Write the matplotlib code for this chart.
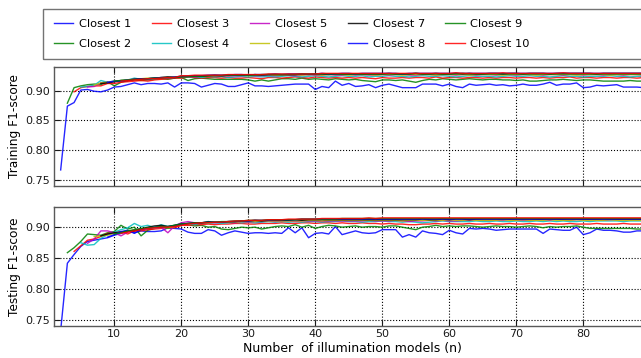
import numpy as np
import matplotlib
matplotlib.use('Agg')
import matplotlib.pyplot as plt
from matplotlib.patches import Rectangle

# F1-scores vs number of illumination models; "Closest k" starts at n = k+1
labels = ['Closest %d' % k for k in range(1, 11)]
colors = ['b', 'g', 'r', 'c', 'm', 'y', 'k', 'b', 'g', 'r']

train = [
    [0.767, 0.874, 0.880, 0.901, 0.902, 0.899, 0.898, 0.901, 0.906, 0.907,
     0.910, 0.913, 0.910, 0.912, 0.912, 0.911, 0.913, 0.906, 0.913, 0.913,
     0.912, 0.906, 0.909, 0.912, 0.911, 0.907, 0.907, 0.910, 0.913, 0.908,
     0.908, 0.907, 0.908, 0.909, 0.910, 0.911, 0.911, 0.911, 0.902, 0.907,
     0.905, 0.916, 0.909, 0.912, 0.907, 0.908, 0.910, 0.905, 0.909, 0.911,
     0.908, 0.905, 0.905, 0.905, 0.911, 0.911, 0.911, 0.908, 0.911, 0.907,
     0.905, 0.911, 0.909, 0.910, 0.911, 0.909, 0.910, 0.908, 0.909, 0.911,
     0.909, 0.909, 0.911, 0.914, 0.909, 0.911, 0.911, 0.913, 0.905, 0.906,
     0.909, 0.908, 0.909, 0.910, 0.906, 0.906, 0.906, 0.905, 0.905],
    [0.879, 0.905, 0.908, 0.910, 0.911, 0.910, 0.915, 0.908, 0.914, 0.917,
     0.918, 0.917, 0.918, 0.919, 0.920, 0.919, 0.921, 0.922, 0.917, 0.920,
     0.921, 0.920, 0.919, 0.919, 0.919, 0.919, 0.919, 0.918, 0.916, 0.918,
     0.916, 0.918, 0.920, 0.920, 0.919, 0.921, 0.919, 0.920, 0.919, 0.918,
     0.920, 0.919, 0.918, 0.919, 0.917, 0.916, 0.915, 0.918, 0.918, 0.917,
     0.918, 0.916, 0.914, 0.917, 0.919, 0.918, 0.920, 0.919, 0.918, 0.919,
     0.920, 0.919, 0.918, 0.919, 0.919, 0.918, 0.918, 0.917, 0.918, 0.916,
     0.916, 0.917, 0.918, 0.918, 0.919, 0.918, 0.917, 0.918, 0.918, 0.917,
     0.916, 0.916, 0.916, 0.916, 0.917, 0.916, 0.916, 0.916],
    [0.898, 0.905, 0.907, 0.908, 0.908, 0.912, 0.912, 0.914, 0.915, 0.916,
     0.917, 0.916, 0.918, 0.919, 0.920, 0.921, 0.921, 0.923, 0.922, 0.921,
     0.922, 0.922, 0.921, 0.922, 0.921, 0.921, 0.922, 0.921, 0.920, 0.922,
     0.922, 0.921, 0.922, 0.923, 0.922, 0.921, 0.923, 0.922, 0.921, 0.922,
     0.921, 0.922, 0.921, 0.922, 0.921, 0.920, 0.922, 0.921, 0.921, 0.922,
     0.921, 0.922, 0.922, 0.921, 0.923, 0.921, 0.922, 0.922, 0.921, 0.922,
     0.922, 0.921, 0.922, 0.921, 0.922, 0.922, 0.921, 0.922, 0.922, 0.921,
     0.922, 0.921, 0.922, 0.922, 0.923, 0.921, 0.922, 0.922, 0.921, 0.922,
     0.922, 0.921, 0.922, 0.922, 0.921, 0.922, 0.922],
    [0.906, 0.907, 0.909, 0.917, 0.914, 0.916, 0.917, 0.918, 0.921, 0.919,
     0.919, 0.920, 0.921, 0.922, 0.922, 0.924, 0.923, 0.924, 0.922, 0.924,
     0.923, 0.924, 0.922, 0.923, 0.924, 0.923, 0.924, 0.923, 0.924, 0.923,
     0.924, 0.925, 0.924, 0.923, 0.924, 0.925, 0.924, 0.923, 0.924, 0.925,
     0.924, 0.924, 0.925, 0.923, 0.924, 0.924, 0.925, 0.924, 0.924, 0.923,
     0.924, 0.925, 0.924, 0.924, 0.925, 0.924, 0.923, 0.924, 0.925, 0.924,
     0.924, 0.924, 0.923, 0.924, 0.925, 0.924, 0.924, 0.925, 0.924, 0.924,
     0.923, 0.924, 0.925, 0.924, 0.924, 0.923, 0.924, 0.924, 0.924, 0.925,
     0.924, 0.924, 0.923, 0.924, 0.924, 0.924],
    [0.906, 0.907, 0.913, 0.914, 0.915, 0.916, 0.918, 0.919, 0.920, 0.920,
     0.921, 0.921, 0.922, 0.922, 0.923, 0.924, 0.923, 0.924, 0.925, 0.924,
     0.925, 0.924, 0.925, 0.925, 0.926, 0.925, 0.925, 0.926, 0.925, 0.926,
     0.926, 0.925, 0.926, 0.927, 0.926, 0.926, 0.927, 0.926, 0.926, 0.927,
     0.926, 0.927, 0.926, 0.926, 0.927, 0.926, 0.927, 0.927, 0.926, 0.926,
     0.927, 0.927, 0.926, 0.927, 0.927, 0.926, 0.927, 0.927, 0.926, 0.927,
     0.927, 0.926, 0.927, 0.927, 0.926, 0.927, 0.927, 0.927, 0.926, 0.927,
     0.927, 0.926, 0.927, 0.927, 0.926, 0.927, 0.927, 0.926, 0.927, 0.927,
     0.926, 0.927, 0.927, 0.926, 0.927],
    [0.909, 0.913, 0.914, 0.916, 0.917, 0.918, 0.919, 0.920, 0.921, 0.921,
     0.922, 0.923, 0.923, 0.924, 0.924, 0.925, 0.924, 0.925, 0.925, 0.926,
     0.925, 0.926, 0.926, 0.925, 0.926, 0.926, 0.927, 0.926, 0.926, 0.927,
     0.927, 0.926, 0.927, 0.927, 0.926, 0.927, 0.927, 0.927, 0.926, 0.927,
     0.927, 0.927, 0.926, 0.927, 0.927, 0.927, 0.926, 0.927, 0.927, 0.927,
     0.927, 0.926, 0.927, 0.927, 0.927, 0.927, 0.926, 0.927, 0.927, 0.927,
     0.927, 0.926, 0.927, 0.927, 0.927, 0.927, 0.926, 0.927, 0.927, 0.927,
     0.927, 0.927, 0.926, 0.927, 0.927, 0.927, 0.927, 0.926, 0.927, 0.927,
     0.927, 0.927, 0.927, 0.927],
    [0.912, 0.913, 0.915, 0.917, 0.917, 0.919, 0.920, 0.920, 0.921, 0.922,
     0.923, 0.922, 0.924, 0.924, 0.925, 0.924, 0.925, 0.926, 0.925, 0.926,
     0.926, 0.926, 0.926, 0.927, 0.926, 0.927, 0.927, 0.927, 0.927, 0.927,
     0.928, 0.927, 0.928, 0.928, 0.927, 0.928, 0.928, 0.928, 0.928, 0.928,
     0.928, 0.928, 0.928, 0.929, 0.928, 0.928, 0.928, 0.929, 0.928, 0.928,
     0.929, 0.928, 0.928, 0.929, 0.928, 0.929, 0.928, 0.928, 0.929, 0.929,
     0.928, 0.929, 0.929, 0.928, 0.929, 0.929, 0.929, 0.928, 0.929, 0.929,
     0.929, 0.929, 0.929, 0.929, 0.928, 0.929, 0.929, 0.929, 0.929, 0.929,
     0.929, 0.929, 0.929],
    [0.914, 0.916, 0.916, 0.918, 0.919, 0.920, 0.920, 0.921, 0.922, 0.922,
     0.923, 0.924, 0.924, 0.925, 0.925, 0.926, 0.926, 0.926, 0.926, 0.927,
     0.927, 0.926, 0.927, 0.927, 0.927, 0.928, 0.927, 0.928, 0.928, 0.928,
     0.928, 0.928, 0.929, 0.928, 0.928, 0.929, 0.929, 0.928, 0.929, 0.929,
     0.929, 0.929, 0.929, 0.929, 0.928, 0.929, 0.929, 0.929, 0.929, 0.929,
     0.929, 0.929, 0.929, 0.929, 0.929, 0.929, 0.929, 0.929, 0.929, 0.929,
     0.929, 0.929, 0.929, 0.929, 0.929, 0.929, 0.929, 0.929, 0.929, 0.929,
     0.929, 0.929, 0.929, 0.929, 0.929, 0.929, 0.929, 0.929, 0.929, 0.929,
     0.929, 0.929],
    [0.916, 0.917, 0.918, 0.919, 0.919, 0.920, 0.921, 0.921, 0.922, 0.922,
     0.923, 0.923, 0.924, 0.924, 0.925, 0.925, 0.925, 0.926, 0.926, 0.926,
     0.926, 0.926, 0.927, 0.927, 0.927, 0.927, 0.927, 0.927, 0.928, 0.928,
     0.928, 0.928, 0.928, 0.928, 0.928, 0.928, 0.928, 0.928, 0.928, 0.928,
     0.928, 0.928, 0.928, 0.928, 0.928, 0.929, 0.928, 0.928, 0.928, 0.928,
     0.928, 0.928, 0.929, 0.928, 0.928, 0.928, 0.928, 0.928, 0.928, 0.928,
     0.928, 0.928, 0.928, 0.928, 0.928, 0.928, 0.928, 0.928, 0.928, 0.928,
     0.928, 0.928, 0.928, 0.928, 0.928, 0.928, 0.928, 0.928, 0.928, 0.928,
     0.928],
    [0.916, 0.917, 0.918, 0.919, 0.920, 0.920, 0.921, 0.922, 0.922, 0.925,
     0.925, 0.926, 0.926, 0.926, 0.926, 0.926, 0.927, 0.927, 0.927, 0.927,
     0.927, 0.927, 0.928, 0.928, 0.928, 0.928, 0.928, 0.928, 0.928, 0.928,
     0.929, 0.929, 0.929, 0.929, 0.929, 0.929, 0.929, 0.929, 0.929, 0.929,
     0.929, 0.929, 0.929, 0.929, 0.929, 0.929, 0.929, 0.929, 0.929, 0.929,
     0.930, 0.929, 0.929, 0.929, 0.929, 0.929, 0.929, 0.930, 0.929, 0.929,
     0.929, 0.929, 0.929, 0.929, 0.929, 0.929, 0.930, 0.929, 0.929, 0.929,
     0.929, 0.929, 0.929, 0.929, 0.929, 0.929, 0.929, 0.929, 0.929, 0.929],
]

test = [
    [0.733, 0.841, 0.855, 0.868, 0.876, 0.878, 0.880, 0.882, 0.886, 0.889,
     0.893, 0.890, 0.893, 0.892, 0.892, 0.893, 0.898, 0.897, 0.896, 0.891,
     0.889, 0.889, 0.895, 0.893, 0.886, 0.890, 0.893, 0.891, 0.889, 0.890,
     0.890, 0.889, 0.890, 0.889, 0.898, 0.890, 0.898, 0.882, 0.889, 0.890,
     0.888, 0.900, 0.887, 0.890, 0.893, 0.890, 0.889, 0.890, 0.895, 0.895,
     0.895, 0.883, 0.887, 0.883, 0.893, 0.890, 0.889, 0.887, 0.894, 0.890,
     0.888, 0.897, 0.896, 0.897, 0.896, 0.894, 0.895, 0.896, 0.896, 0.896,
     0.896, 0.896, 0.889, 0.896, 0.895, 0.894, 0.894, 0.899, 0.887, 0.890,
     0.896, 0.894, 0.894, 0.893, 0.891, 0.891, 0.893, 0.893, 0.893],
    [0.858, 0.866, 0.876, 0.888, 0.887, 0.886, 0.890, 0.892, 0.902, 0.896,
     0.899, 0.885, 0.894, 0.897, 0.900, 0.897, 0.900, 0.904, 0.903, 0.901,
     0.902, 0.899, 0.900, 0.896, 0.895, 0.897, 0.899, 0.898, 0.899, 0.896,
     0.898, 0.900, 0.901, 0.900, 0.903, 0.899, 0.902, 0.897, 0.900, 0.902,
     0.901, 0.899, 0.900, 0.901, 0.899, 0.900, 0.900, 0.899, 0.901, 0.901,
     0.899, 0.897, 0.895, 0.899, 0.900, 0.902, 0.900, 0.901, 0.900, 0.901,
     0.901, 0.900, 0.899, 0.900, 0.901, 0.900, 0.900, 0.899, 0.900, 0.901,
     0.900, 0.898, 0.900, 0.899, 0.900, 0.900, 0.901, 0.899, 0.897, 0.897,
     0.897, 0.897, 0.897, 0.897, 0.897, 0.896, 0.896, 0.896],
    [0.860, 0.869, 0.878, 0.880, 0.884, 0.889, 0.890, 0.892, 0.888, 0.893,
     0.893, 0.895, 0.896, 0.897, 0.899, 0.898, 0.902, 0.902, 0.903, 0.903,
     0.904, 0.903, 0.904, 0.904, 0.905, 0.905, 0.904, 0.904, 0.905, 0.905,
     0.905, 0.906, 0.905, 0.905, 0.906, 0.906, 0.905, 0.906, 0.906, 0.905,
     0.906, 0.905, 0.905, 0.906, 0.905, 0.905, 0.904, 0.905, 0.904, 0.904,
     0.903, 0.903, 0.904, 0.904, 0.905, 0.904, 0.905, 0.904, 0.904, 0.905,
     0.904, 0.904, 0.905, 0.904, 0.904, 0.905, 0.904, 0.904, 0.905, 0.904,
     0.904, 0.905, 0.904, 0.904, 0.905, 0.904, 0.904, 0.904, 0.905, 0.904,
     0.904, 0.904, 0.905, 0.904, 0.904, 0.904, 0.904],
    [0.874, 0.870, 0.871, 0.881, 0.887, 0.891, 0.895, 0.898, 0.905, 0.900,
     0.902, 0.898, 0.903, 0.900, 0.902, 0.905, 0.904, 0.903, 0.906, 0.905,
     0.906, 0.905, 0.906, 0.907, 0.906, 0.907, 0.906, 0.907, 0.908, 0.907,
     0.908, 0.907, 0.908, 0.907, 0.908, 0.908, 0.907, 0.908, 0.908, 0.909,
     0.908, 0.908, 0.907, 0.908, 0.908, 0.909, 0.908, 0.908, 0.907, 0.908,
     0.907, 0.906, 0.907, 0.908, 0.909, 0.908, 0.908, 0.908, 0.908, 0.909,
     0.908, 0.908, 0.909, 0.908, 0.908, 0.909, 0.908, 0.908, 0.909, 0.908,
     0.909, 0.908, 0.909, 0.908, 0.908, 0.909, 0.908, 0.909, 0.909, 0.909,
     0.909, 0.908, 0.909, 0.909, 0.909, 0.909],
    [0.873, 0.880, 0.893, 0.893, 0.890, 0.885, 0.891, 0.895, 0.896, 0.898,
     0.897, 0.899, 0.890, 0.901, 0.906, 0.908, 0.906, 0.905, 0.907, 0.906,
     0.907, 0.907, 0.906, 0.908, 0.907, 0.908, 0.908, 0.909, 0.908, 0.909,
     0.909, 0.908, 0.909, 0.909, 0.909, 0.908, 0.909, 0.909, 0.909, 0.909,
     0.909, 0.909, 0.910, 0.909, 0.909, 0.909, 0.910, 0.909, 0.908, 0.909,
     0.909, 0.910, 0.909, 0.910, 0.909, 0.909, 0.910, 0.910, 0.911, 0.910,
     0.910, 0.910, 0.910, 0.911, 0.910, 0.910, 0.910, 0.911, 0.911, 0.910,
     0.912, 0.911, 0.910, 0.911, 0.911, 0.911, 0.911, 0.910, 0.911, 0.911,
     0.911, 0.911, 0.911, 0.911, 0.911],
    [0.884, 0.885, 0.886, 0.889, 0.891, 0.893, 0.894, 0.895, 0.898, 0.898,
     0.899, 0.898, 0.900, 0.903, 0.904, 0.905, 0.906, 0.906, 0.907, 0.907,
     0.907, 0.907, 0.908, 0.908, 0.908, 0.909, 0.909, 0.909, 0.909, 0.909,
     0.909, 0.909, 0.910, 0.910, 0.909, 0.910, 0.910, 0.910, 0.910, 0.910,
     0.910, 0.910, 0.910, 0.910, 0.910, 0.910, 0.909, 0.910, 0.910, 0.910,
     0.910, 0.910, 0.910, 0.911, 0.910, 0.910, 0.911, 0.910, 0.910, 0.910,
     0.910, 0.911, 0.910, 0.910, 0.911, 0.910, 0.910, 0.910, 0.911, 0.910,
     0.910, 0.910, 0.911, 0.910, 0.910, 0.910, 0.910, 0.911, 0.910, 0.910,
     0.910, 0.910, 0.910, 0.910],
    [0.885, 0.888, 0.890, 0.891, 0.893, 0.893, 0.896, 0.899, 0.901, 0.902,
     0.900, 0.902, 0.904, 0.905, 0.906, 0.906, 0.908, 0.907, 0.907, 0.908,
     0.908, 0.909, 0.909, 0.910, 0.909, 0.910, 0.910, 0.910, 0.910, 0.911,
     0.910, 0.911, 0.911, 0.911, 0.911, 0.911, 0.911, 0.911, 0.911, 0.911,
     0.911, 0.911, 0.911, 0.911, 0.911, 0.911, 0.911, 0.911, 0.912, 0.911,
     0.911, 0.912, 0.911, 0.912, 0.912, 0.911, 0.912, 0.912, 0.912, 0.912,
     0.912, 0.912, 0.912, 0.912, 0.912, 0.912, 0.912, 0.912, 0.912, 0.912,
     0.912, 0.912, 0.912, 0.912, 0.912, 0.912, 0.912, 0.912, 0.912, 0.912,
     0.912, 0.912, 0.912],
    [0.883, 0.887, 0.892, 0.894, 0.889, 0.895, 0.897, 0.899, 0.899, 0.900,
     0.901, 0.903, 0.905, 0.905, 0.906, 0.907, 0.907, 0.907, 0.908, 0.908,
     0.909, 0.909, 0.910, 0.910, 0.910, 0.911, 0.911, 0.911, 0.911, 0.912,
     0.912, 0.912, 0.912, 0.912, 0.912, 0.912, 0.912, 0.912, 0.912, 0.912,
     0.912, 0.912, 0.912, 0.912, 0.912, 0.912, 0.912, 0.912, 0.912, 0.912,
     0.912, 0.912, 0.912, 0.912, 0.912, 0.912, 0.912, 0.912, 0.912, 0.912,
     0.912, 0.912, 0.912, 0.912, 0.912, 0.912, 0.912, 0.912, 0.912, 0.912,
     0.912, 0.912, 0.912, 0.912, 0.912, 0.912, 0.912, 0.912, 0.912, 0.912,
     0.912, 0.912],
    [0.888, 0.890, 0.893, 0.895, 0.897, 0.898, 0.899, 0.900, 0.900, 0.902,
     0.904, 0.905, 0.906, 0.906, 0.907, 0.907, 0.908, 0.908, 0.909, 0.909,
     0.910, 0.910, 0.910, 0.911, 0.911, 0.911, 0.911, 0.911, 0.912, 0.912,
     0.912, 0.912, 0.912, 0.912, 0.913, 0.913, 0.913, 0.913, 0.913, 0.913,
     0.913, 0.913, 0.913, 0.913, 0.913, 0.913, 0.913, 0.913, 0.913, 0.913,
     0.913, 0.913, 0.913, 0.913, 0.913, 0.913, 0.913, 0.913, 0.913, 0.913,
     0.913, 0.913, 0.913, 0.913, 0.913, 0.913, 0.913, 0.913, 0.913, 0.913,
     0.913, 0.913, 0.913, 0.913, 0.913, 0.913, 0.913, 0.913, 0.913, 0.913,
     0.913],
    [0.889, 0.891, 0.893, 0.895, 0.897, 0.898, 0.899, 0.899, 0.900, 0.902,
     0.904, 0.905, 0.906, 0.906, 0.907, 0.907, 0.908, 0.909, 0.909, 0.910,
     0.910, 0.910, 0.911, 0.911, 0.911, 0.912, 0.912, 0.912, 0.912, 0.912,
     0.913, 0.913, 0.913, 0.913, 0.913, 0.913, 0.913, 0.914, 0.913, 0.914,
     0.914, 0.914, 0.914, 0.914, 0.914, 0.914, 0.914, 0.914, 0.914, 0.914,
     0.914, 0.914, 0.914, 0.914, 0.914, 0.914, 0.914, 0.914, 0.914, 0.914,
     0.914, 0.914, 0.914, 0.914, 0.914, 0.914, 0.914, 0.914, 0.914, 0.914,
     0.914, 0.914, 0.914, 0.914, 0.914, 0.914, 0.914, 0.914, 0.914, 0.914],
]

yticks = [0.75, 0.80, 0.85, 0.90]
xticks = [10, 20, 30, 40, 50, 60, 70, 80]

plt.rcParams['xtick.direction'] = 'in'
plt.rcParams['ytick.direction'] = 'in'
plt.rcParams['xtick.top'] = True
plt.rcParams['ytick.right'] = True

W, H = 641, 358
fig = plt.figure(figsize=(W / 100, H / 100), dpi=100)
ax1 = fig.add_axes([0.0842, 0.4804, 0.9303, 0.333])
ax2 = fig.add_axes([0.0842, 0.0894, 0.9303, 0.3316])

lines = []
for k in range(10):
    n = np.arange(k + 2, k + 2 + len(train[k]))
    l, = ax1.plot(n, train[k], color=colors[k], lw=1, alpha=0.85, label=labels[k])
    lines.append(l)
    n = np.arange(k + 2, k + 2 + len(test[k]))
    ax2.plot(n, test[k], color=colors[k], lw=1, alpha=0.85)

ax1.set_ylim(0.74, 0.94)
ax2.set_ylim(0.74, 0.931)
for ax in (ax1, ax2):
    ax.set_xlim(1, 90)
    ax.set_xticks(xticks)
    ax.set_yticks(yticks)
    ax.grid(True, color='k', linestyle=':', linewidth=0.8)
    ax.tick_params(labelsize=8, length=4, width=0.8, pad=2.5, colors='0.1')
    for s in ax.spines.values():
        s.set_color('0.35')
        s.set_linewidth(1.0)
ax1.set_xticklabels([])
ax1.set_ylabel('Training F1-score', fontsize=8.7, labelpad=3.5)
ax2.set_ylabel('Testing F1-score', fontsize=8.7, labelpad=3.5)
ax2.set_xlabel('Number  of illumination models (n)', fontsize=9, labelpad=2)

# legend box runs past the right edge of the figure, so draw the frame separately
fig.patches.append(Rectangle((43 / W, 1 - 59 / H), 700 / W, 50 / H,
                             transform=fig.transFigure, fill=False,
                             edgecolor='0.45', linewidth=1.0))
leg = fig.legend(handles=lines, loc='upper left', bbox_to_anchor=(45 / W, 1 - 10 / H),
                 ncol=5, fontsize=8.2, frameon=False,
                 handlelength=1.7, handletextpad=0.5, columnspacing=1.8,
                 labelspacing=0.85, borderpad=0.3)

fig.savefig('out.png', dpi=100)
